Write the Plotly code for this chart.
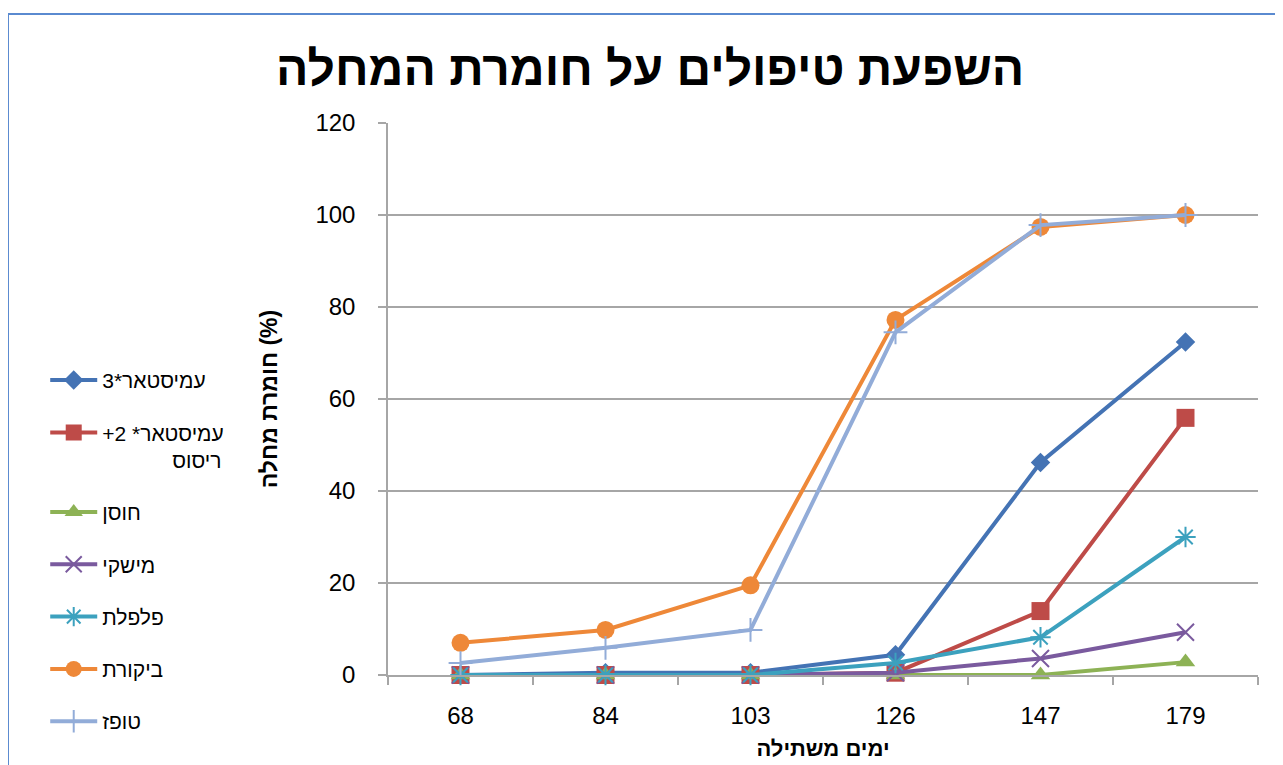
import plotly.graph_objects as go

days = ["68", "84", "103", "126", "147", "179"]

amistar3 = [0, 0.5, 0.5, 4.4, 46.2, 72.4]
amistar2_spray = [0, 0, 0, 0.5, 13.9, 55.9]
hosen = [0, 0, 0, 0, 0, 2.8]
mishki = [0, 0, 0, 0.5, 3.6, 9.3]
pilpelet = [0, 0, 0, 2.6, 8.2, 30.0]
control = [7.0, 9.8, 19.5, 77.2, 97.4, 100]
topaz = [2.6, 5.9, 9.8, 74.5, 97.8, 100]

series_names = [
    "עמיסטאר*3",
    "עמיסטאר* 2+\u200f<br>" + "\u00a0" * 12 + "ריסוס",
    "חוסן",
    "מישקי",
    "פלפלת",
    "ביקורת",
    "טופז",
]
series_values = [amistar3, amistar2_spray, hosen, mishki, pilpelet, control, topaz]
line_colors = ["#4473B4", "#BE4B48", "#8DB255", "#7A5A9E", "#3CA1BE", "#EE8838", "#92ACD8"]
marker_symbols = ["diamond", "square", "triangle-up", "x-thin-open", "asterisk-open", "circle", "cross-thin-open"]
marker_sizes = [15, 18, 17, 17, 17, 18, 17]
marker_line_colors = ["#4473B4", "#BE4B48", "#8DB255", "#A490C4", "#6CC3DA", "#EE8838", "#8FA9D6"]

fig = go.Figure()
for i, (name, vals) in enumerate(zip(series_names, series_values)):
    fig.add_trace(go.Scatter(
        x=days, y=vals, name=name, mode="lines+markers",
        legendgroup=f"g{i}",
        line=dict(color=line_colors[i], width=4),
        marker=dict(symbol=marker_symbols[i], size=marker_sizes[i], color=line_colors[i],
                    line=dict(color=marker_line_colors[i], width=2 if "open" in marker_symbols[i] else 0)),
        cliponaxis=False,
    ))

font_family = "Liberation Sans, Arial, sans-serif"

fig.update_layout(
    width=1283, height=765,
    margin=dict(l=380, r=33, t=115, b=98, autoexpand=False),
    paper_bgcolor="white", plot_bgcolor="white",
    font=dict(family=font_family, color="#000000"),
    title=dict(text="<b>השפעת טיפולים על חומרת המחלה</b>", font=dict(size=48, family=font_family),
               xref="container", x=0.5005, xanchor="center", yref="container", y=1 - 60 / 765, yanchor="middle"),
    showlegend=True,
    legend=dict(x=-0.394, xanchor="left", y=0.5707, yanchor="top", font=dict(size=21),
                traceorder="grouped", tracegroupgap=22, valign="top", itemwidth=47,
                bgcolor="rgba(0,0,0,0)"),
    xaxis=dict(type="category", range=[-0.5, 5.5], showgrid=False, showline=True, linecolor="#a6a6a6", linewidth=1.5,
               ticks="outside", ticklen=8, tickcolor="#a6a6a6", tickwidth=1.5, tickson="boundaries",
               tickfont=dict(size=24), ticklabelstandoff=18, automargin=False,
               title=dict(text="<b>ימים משתילה</b>", font=dict(size=22), standoff=13)),
    yaxis=dict(range=[0, 120], dtick=20, showgrid=True, gridcolor="#a6a6a6", gridwidth=1.5,
               showline=True, linecolor="#a6a6a6", linewidth=1.5, zeroline=False,
               ticks="outside", ticklen=8, tickcolor="#a6a6a6", tickwidth=1.5,
               tickfont=dict(size=24), ticklabelstandoff=18, automargin=False,
               title=dict(text="<b>חומרת מחלה (%)</b>", font=dict(size=23), standoff=31)),
    shapes=[dict(type="rect", xref="paper", yref="paper", x0=-0.4368, x1=1.2, y0=-0.4, y1=1.1975,
                 line=dict(color="#5A8AD0", width=2), fillcolor="rgba(0,0,0,0)", layer="below")],
)

fig.write_html("out.html")
